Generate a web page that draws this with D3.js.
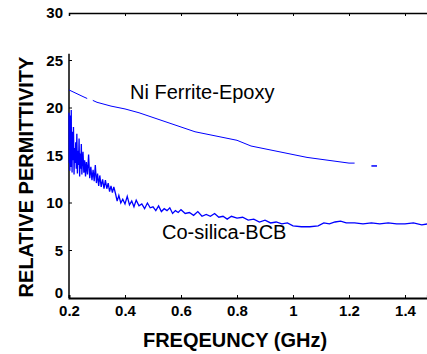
<!DOCTYPE html>
<html>
<head>
<meta charset="utf-8">
<script src="https://cdn.jsdelivr.net/npm/d3@7/dist/d3.min.js"></script>
<style>
  html, body { margin: 0; padding: 0; background: #fff; }
  svg { display: block; }
</style>
</head>
<body>
<div id="chart"></div>
<script>
// Axis ticks
const xTicks = [0.2, 0.4, 0.6, 0.8, 1, 1.2, 1.4];
const yTicks = [0, 5, 10, 15, 20, 25, 30];

// Ni Ferrite-Epoxy (smooth curve with a scan gap, plus a short segment near 1.29 GHz)
const niFreq = [0.20, 0.25, 0.265, 0.27, 0.285, 0.30, 0.35, 0.40, 0.45, 0.50, 0.55, 0.60,
  0.65, 0.70, 0.75, 0.80, 0.85, 0.90, 0.95, 1.00, 1.05, 1.10, 1.15, 1.20, 1.22];
const niPerm = [21.9, 21.2, 21.0, null, 20.8, 20.6, 20.2, 19.9, 19.5, 19.0, 18.5, 18.0,
  17.5, 17.2, 16.9, 16.6, 16.0, 15.7, 15.4, 15.1, 14.8, 14.6, 14.4, 14.2, 14.2];
const niTailFreq = [1.28, 1.30];
const niTailPerm = [13.9, 13.9];

// Co-silica-BCB (noisy trace)
const coFreq = [0.200, 0.201, 0.202, 0.203, 0.204, 0.205, 0.206, 0.207, 0.208, 0.209,
  0.210, 0.211, 0.212, 0.214, 0.216, 0.218, 0.220, 0.222, 0.224, 0.226,
  0.228, 0.230, 0.232, 0.234, 0.236, 0.238, 0.240, 0.242, 0.244, 0.246,
  0.248, 0.250, 0.253, 0.256, 0.259, 0.262, 0.266, 0.270, 0.274, 0.278,
  0.282, 0.286, 0.290, 0.294, 0.298, 0.302, 0.306, 0.310, 0.315, 0.320,
  0.325, 0.330, 0.335, 0.340, 0.345, 0.350, 0.355, 0.360, 0.366, 0.372,
  0.378, 0.385, 0.392, 0.400, 0.408, 0.416, 0.424, 0.432, 0.440, 0.450,
  0.460, 0.470, 0.480, 0.490, 0.500, 0.510, 0.520, 0.530, 0.540, 0.550,
  0.560, 0.570, 0.580, 0.590, 0.600, 0.615, 0.630, 0.645, 0.660, 0.675,
  0.690, 0.705, 0.720, 0.735, 0.750, 0.765, 0.780, 0.800, 0.820, 0.840,
  0.860, 0.880, 0.900, 0.920, 0.940, 0.960, 0.980, 1.000, 1.030, 1.060,
  1.090, 1.110, 1.130, 1.150, 1.170, 1.190, 1.220, 1.250, 1.280, 1.310,
  1.340, 1.370, 1.400, 1.430, 1.460, 1.480];
const coPerm = [19.5, 14.2, 18.6, 13.4, 19.2, 15.0, 17.8, 13.8, 19.8, 14.6,
  16.9, 13.2, 17.5, 14.5, 18.0, 13.0, 15.8, 14.2, 16.4, 13.6,
  17.3, 13.1, 15.5, 14.0, 16.8, 12.8, 15.2, 13.6, 16.2, 13.0,
  14.6, 15.4, 13.2, 14.5, 12.8, 14.3, 13.0, 15.1, 12.6, 13.8,
  12.4, 13.5, 12.3, 14.0, 12.1, 13.1, 11.8, 12.9, 11.7, 12.5,
  11.5, 12.4, 11.5, 12.1, 11.2, 11.8, 11.1, 11.7, 11.0, 10.2,
  10.8, 10.0, 10.4, 9.9, 10.7, 9.8, 10.2, 9.6, 10.3, 9.7,
  9.9, 9.4, 10.0, 9.5, 9.6, 9.2, 9.7, 9.1, 9.4, 9.2,
  9.5, 8.9, 9.2, 9.0, 9.3, 8.9, 9.0, 8.7, 9.1, 8.6,
  8.8, 8.6, 8.9, 8.5, 8.6, 8.3, 8.6, 8.4, 8.5, 8.2,
  8.3, 8.0, 8.2, 7.9, 8.0, 7.8, 7.9, 7.6, 7.5, 7.5,
  7.6, 7.9, 7.8, 8.0, 8.1, 7.9, 7.9, 7.8, 7.9, 7.8,
  7.9, 7.8, 7.8, 7.9, 7.7, 7.8];

const width = 427;
const height = 354;
const margin = { top: 13, right: 0, bottom: 56, left: 69 };

const svg = d3.select('#chart')
  .append('svg')
  .attr('width', width)
  .attr('height', height);

const x = d3.scaleLinear()
  .domain([0.2, 1.48])
  .range([margin.left, margin.left + 1.28 * 280]);

const y = d3.scaleLinear()
  .domain([0, 30])
  .range([height - margin.bottom, margin.top]);

const tickFont = 'bold 15px "Liberation Sans", Arial, sans-serif';

// Bottom axis
const xAxis = svg.append('g')
  .attr('transform', `translate(0,${y(0)})`)
  .call(d3.axisBottom(x).tickValues(xTicks).tickSize(-3).tickPadding(7)
    .tickFormat(d => d3.format('~g')(d)));
xAxis.select('.domain').attr('stroke-width', 2);
xAxis.selectAll('text').style('font', tickFont).attr('fill', '#000');

// Top axis
const topAxis = svg.append('g')
  .attr('transform', `translate(0,${y(30)})`)
  .call(d3.axisTop(x).tickValues(xTicks).tickSize(-3).tickFormat(''));
topAxis.select('.domain').attr('stroke-width', 1.5);

// Left axis (line only runs up to ~25.5, like the original)
const yAxis = svg.append('g')
  .attr('transform', `translate(${margin.left},0)`)
  .call(d3.axisLeft(y).tickValues(yTicks).tickSize(0).tickPadding(6));
yAxis.select('.domain').remove();
yAxis.selectAll('text').style('font', tickFont).attr('fill', '#000')
  .attr('dy', d => d === 0 ? '-0.05em' : '0.32em');
svg.append('line')
  .attr('x1', margin.left).attr('x2', margin.left)
  .attr('y1', y(0)).attr('y2', y(25.7))
  .attr('stroke', '#000').attr('stroke-width', 1.5);
svg.append('g')
  .selectAll('line')
  .data(yTicks.filter(d => d > 0 && d < 30))
  .join('line')
  .attr('x1', margin.left).attr('x2', margin.left + 3)
  .attr('y1', d => y(d)).attr('y2', d => y(d))
  .attr('stroke', '#000');

// Lines
const line = d3.line()
  .defined(d => d[1] !== null)
  .x(d => x(d[0]))
  .y(d => y(d[1]));

svg.append('path')
  .datum(d3.zip(coFreq, coPerm))
  .attr('d', line)
  .attr('fill', 'none')
  .attr('stroke', '#0000ff')
  .attr('stroke-width', 1.3);

svg.append('path')
  .datum(d3.zip(niFreq, niPerm))
  .attr('d', line)
  .attr('fill', 'none')
  .attr('stroke', '#0000ff')
  .attr('stroke-width', 1);

svg.append('path')
  .datum(d3.zip(niTailFreq, niTailPerm))
  .attr('d', line)
  .attr('fill', 'none')
  .attr('stroke', '#0000ff')
  .attr('stroke-width', 1.5);

// Curve labels
const labelFont = '20px "Liberation Sans", Arial, sans-serif';
svg.append('text')
  .attr('x', 130).attr('y', 99)
  .style('font', labelFont)
  .text('Ni Ferrite-Epoxy');
svg.append('text')
  .attr('x', 162).attr('y', 239)
  .style('font', labelFont)
  .text('Co-silica-BCB');

// Axis titles
const titleFont = 'bold 20px "Liberation Sans", Arial, sans-serif';
svg.append('text')
  .attr('x', 235).attr('y', 347)
  .attr('text-anchor', 'middle')
  .style('font', titleFont)
  .text('FREQEUNCY (GHz)');
svg.append('text')
  .attr('transform', 'translate(33,177) rotate(-90)')
  .attr('text-anchor', 'middle')
  .style('font', titleFont)
  .text('RELATIVE PERMITTIVITY');
</script>
</body>
</html>
